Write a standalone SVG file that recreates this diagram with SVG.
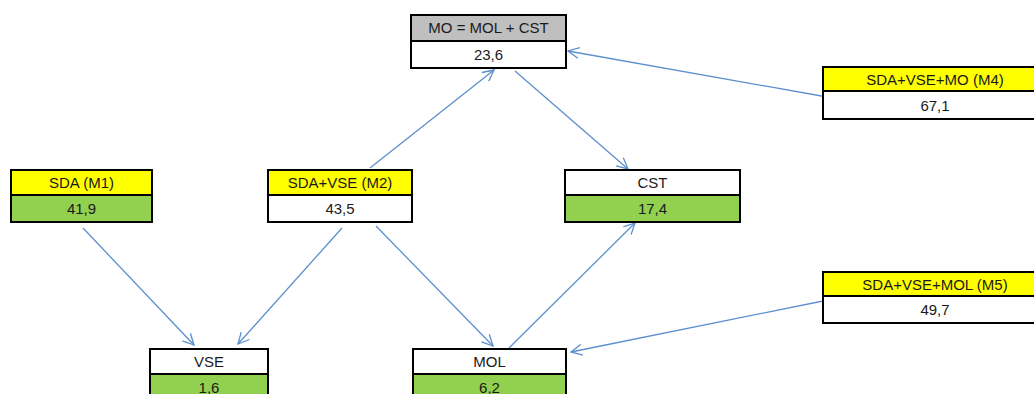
<svg xmlns="http://www.w3.org/2000/svg" width="1034" height="394" viewBox="0 0 1034 394">
<style>
.b{stroke:#000;stroke-width:2}
.w{fill:#fff}.y{fill:#ffff00}.g{fill:#92d050}.gr{fill:#bfbfbf}
text{font-family:"Liberation Sans",Arial,sans-serif;font-size:15px;fill:#1a1a1a;text-anchor:middle}
.c line{stroke:#5b8fce;stroke-width:1.3;fill:none;marker-end:url(#a)}
</style>
<defs>
<marker id="a" markerWidth="14" markerHeight="14" refX="12" refY="7" orient="auto" markerUnits="userSpaceOnUse">
<path d="M1,1.5 L12,7 L1,12.5" fill="none" stroke="#5b8fce" stroke-width="1.3"/>
</marker>
</defs>
<rect width="1034" height="394" fill="#fff"/>
<g class="c">
<line x1="370" y1="168" x2="494" y2="70"/>
<line x1="515" y1="71" x2="628" y2="169"/>
<line x1="827" y1="97" x2="568" y2="51"/>
<line x1="83" y1="228" x2="194" y2="345"/>
<line x1="342" y1="228" x2="238" y2="344"/>
<line x1="376" y1="226" x2="493" y2="346"/>
<line x1="509" y1="348" x2="635" y2="223"/>
<line x1="823" y1="301" x2="571" y2="352"/>
</g>
<g id="mo">
<rect class="b gr" x="411" y="15" width="155" height="26"/>
<rect class="b w" x="411" y="41" width="155" height="27"/>
<text x="488.5" y="33">MO = MOL + CST</text>
<text x="488.5" y="60">23,6</text>
</g>
<g id="m1">
<rect class="b y" x="11" y="170" width="141" height="25"/>
<rect class="b g" x="11" y="195" width="141" height="27"/>
<text x="81.5" y="188">SDA (M1)</text>
<text x="81.5" y="214">41,9</text>
</g>
<g id="m2">
<rect class="b y" x="268" y="170" width="144" height="25"/>
<rect class="b w" x="268" y="195" width="144" height="27"/>
<text x="340" y="188">SDA+VSE (M2)</text>
<text x="340" y="214">43,5</text>
</g>
<g id="cst">
<rect class="b w" x="565" y="170" width="175" height="25"/>
<rect class="b g" x="565" y="195" width="175" height="27"/>
<text x="652.5" y="188">CST</text>
<text x="652.5" y="214">17,4</text>
</g>
<g id="m4">
<rect class="b y" x="823" y="67" width="224" height="24"/>
<rect class="b w" x="823" y="91" width="224" height="28"/>
<text x="935" y="85">SDA+VSE+MO (M4)</text>
<text x="935" y="111">67,1</text>
</g>
<g id="m5">
<rect class="b y" x="823" y="272" width="224" height="24"/>
<rect class="b w" x="823" y="296" width="224" height="27"/>
<text x="935" y="290">SDA+VSE+MOL (M5)</text>
<text x="935" y="315">49,7</text>
</g>
<g id="vse">
<rect class="b w" x="150" y="349" width="118" height="25"/>
<rect class="b g" x="150" y="374" width="118" height="27"/>
<text x="209" y="367">VSE</text>
<text x="209" y="393">1,6</text>
</g>
<g id="mol">
<rect class="b w" x="413" y="349" width="153" height="25"/>
<rect class="b g" x="413" y="374" width="153" height="27"/>
<text x="489.5" y="367">MOL</text>
<text x="489.5" y="393">6,2</text>
</g>
</svg>
